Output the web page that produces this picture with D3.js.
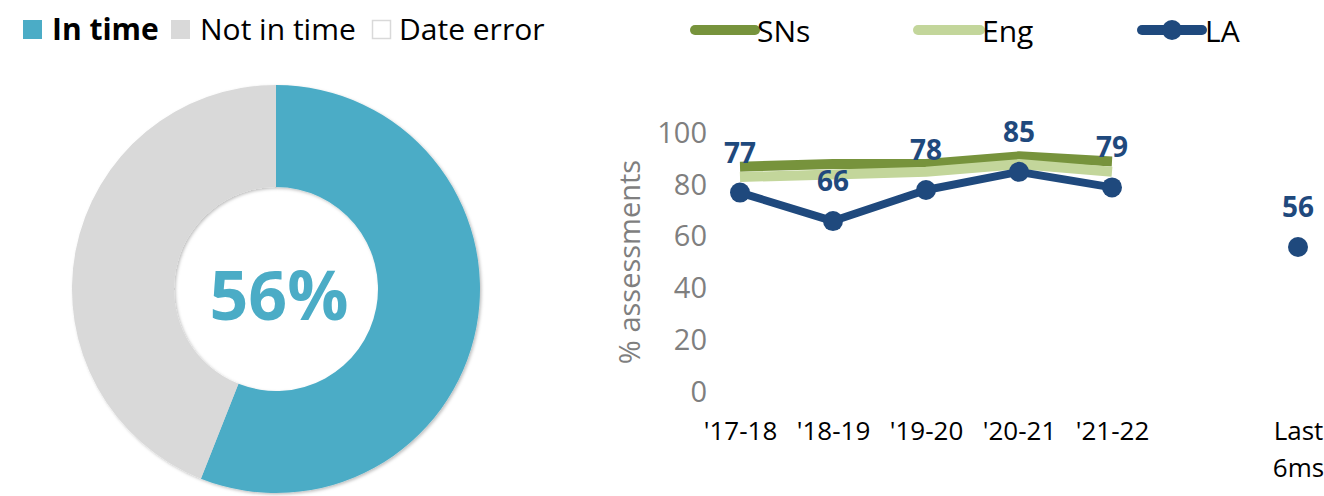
<!DOCTYPE html>
<html>
<head>
<meta charset="utf-8">
<script src="https://cdn.jsdelivr.net/npm/d3@7/dist/d3.min.js"></script>
<style>
  html, body { margin: 0; padding: 0; background: #fff; }
  svg { display: block; font-family: "Open Sans", "Noto Sans", sans-serif; }
</style>
</head>
<body>
<svg id="chart" width="1324" height="496"></svg>
<script>
// ---------- data ----------
const donutLabels = ["In time", "Not in time", "Date error"];
const donutValues = [56, 44, 0];
const donutColors = ["#4BACC6", "#D9D9D9", "#FFFFFF"];
const donutCenterText = "56%";

const categories = ["'17-18", "'18-19", "'19-20", "'20-21", "'21-22", "", "Last 6ms"];
const snsValues = [87, 88, 88, 91, 89, null, null];
const engValues = [83, 84, 85, 88, 85, null, null];
const laValues  = [77, 66, 78, 85, 79, null, 56];
const seriesNames = ["SNs", "Eng", "LA"];
const seriesColors = ["#77933C", "#C3D69B", "#1F497D"];
const yTicks = [0, 20, 40, 60, 80, 100];
const yTitle = "% assessments";

const svg = d3.select("#chart");

// ---------- filters ----------
const defs = svg.append("defs");
const f = defs.append("filter").attr("id", "shadow")
  .attr("x", "-10%").attr("y", "-10%").attr("width", "120%").attr("height", "120%");
f.append("feDropShadow").attr("dx", 1.5).attr("dy", 1.5).attr("stdDeviation", 1.5)
  .attr("flood-color", "#000").attr("flood-opacity", 0.25);

// ---------- donut ----------
const cx = 276, cy = 289, R = 204, r = 102;
const pie = d3.pie().sort(null).value(d => d)(donutValues);
const arc = d3.arc().innerRadius(r).outerRadius(R);
const dg = svg.append("g").attr("transform", `translate(${cx},${cy})`).attr("filter", "url(#shadow)");
dg.selectAll("path").data(pie).join("path")
  .attr("d", arc)
  .attr("fill", (d, i) => donutColors[i]);
svg.append("text")
  .attr("x", cx + 3).attr("y", cy + 31)
  .attr("text-anchor", "middle")
  .attr("font-size", 68).attr("font-weight", 700)
  .attr("fill", donutColors[0])
  .text(donutCenterText);

// donut legend
const legL = [
  { x: 23, tx: 52, bold: true },
  { x: 171, tx: 200, bold: false },
  { x: 372, tx: 399, bold: false }
];
donutLabels.forEach((lab, i) => {
  const p = legL[i];
  svg.append("rect")
    .attr("x", i === 2 ? p.x + 0.5 : p.x).attr("y", i === 2 ? 20.5 : 20)
    .attr("width", i === 2 ? 18 : 19).attr("height", i === 2 ? 18 : 19)
    .attr("fill", donutColors[i])
    .attr("stroke", i === 2 ? "#D9D9D9" : "none").attr("stroke-width", 1.5);
  svg.append("text")
    .attr("x", p.tx).attr("y", 40)
    .attr("font-size", 30).attr("font-weight", p.bold ? 700 : 400)
    .attr("fill", "#000")
    .text(lab);
});

// ---------- line chart ----------
const x = d3.scalePoint().domain(categories).range([740, 1298]);
const y = d3.scaleLinear().domain([0, 100]).range([392, 133]);

// y axis
const yAxis = svg.append("g").attr("transform", "translate(710,0)")
  .call(d3.axisLeft(y).tickValues(yTicks).tickSize(0).tickPadding(3));
yAxis.select(".domain").remove();
yAxis.selectAll("text").attr("font-size", 29).attr("fill", "#7F7F7F")
  .attr("font-family", "'Open Sans', sans-serif");

svg.append("text")
  .attr("transform", "translate(640,262) rotate(-90)")
  .attr("text-anchor", "middle")
  .attr("font-size", 29).attr("fill", "#7F7F7F")
  .text(yTitle);

// x axis
const xAxis = svg.append("g").attr("transform", "translate(0,419)")
  .call(d3.axisBottom(x).tickSize(0).tickPadding(3));
xAxis.select(".domain").remove();
xAxis.selectAll("text").attr("font-size", 26).attr("fill", "#000")
  .attr("font-family", "'Open Sans', sans-serif")
  .each(function(d) {
    const words = d.split(" ");
    if (words.length > 1) {
      const t = d3.select(this);
      t.text(null);
      words.forEach((w, i) => {
        t.append("tspan").attr("x", 0).attr("dy", i === 0 ? "0.71em" : "1.42em").text(w);
      });
      t.attr("dy", null);
    }
  });

// lines
const seriesData = [snsValues, engValues, laValues];
const lineGen = d3.line()
  .defined(d => d.v !== null)
  .x(d => x(d.c)).y(d => y(d.v));
const mkPts = vals => categories.map((c, i) => ({ c, v: vals[i] }));

[0, 1].forEach(si => {
  const pts = mkPts(seriesData[si]).filter((d, i) => i < 5);
  svg.append("path").datum(pts)
    .attr("d", lineGen)
    .attr("fill", "none")
    .attr("stroke", seriesColors[si])
    .attr("stroke-width", 10)
    .attr("stroke-linejoin", "round")
    .attr("stroke-linecap", "butt");
});

const laPts = mkPts(laValues);
svg.append("path").datum(laPts.filter((d, i) => i < 5))
  .attr("d", lineGen)
  .attr("fill", "none")
  .attr("stroke", seriesColors[2])
  .attr("stroke-width", 8)
  .attr("stroke-linejoin", "round");
const laDef = laPts.filter(d => d.v !== null);
svg.selectAll("circle.la").data(laDef).join("circle")
  .attr("class", "la")
  .attr("cx", d => x(d.c)).attr("cy", d => y(d.v)).attr("r", 10)
  .attr("fill", seriesColors[2]);
svg.selectAll("text.lal").data(laDef).join("text")
  .attr("class", "lal")
  .attr("x", d => x(d.c)).attr("y", d => y(d.v) - 30)
  .attr("text-anchor", "middle")
  .attr("font-size", 28).attr("font-weight", 700)
  .attr("fill", seriesColors[2])
  .text(d => d.v);

// line legend
const legR = [
  { x1: 695, x2: 755, tx: 757 },
  { x1: 918, x2: 980, tx: 982 },
  { x1: 1142, x2: 1202, tx: 1205 }
];
seriesNames.forEach((n, i) => {
  const p = legR[i];
  svg.append("line")
    .attr("x1", p.x1).attr("x2", p.x2).attr("y1", 30).attr("y2", 30)
    .attr("stroke", seriesColors[i]).attr("stroke-width", 10)
    .attr("stroke-linecap", "round");
  if (i === 2) {
    svg.append("circle").attr("cx", (p.x1 + p.x2) / 2).attr("cy", 30).attr("r", 10)
      .attr("fill", seriesColors[i]);
  }
  svg.append("text")
    .attr("x", p.tx).attr("y", 42)
    .attr("font-size", 30).attr("fill", "#000")
    .text(n);
});
</script>
</body>
</html>
